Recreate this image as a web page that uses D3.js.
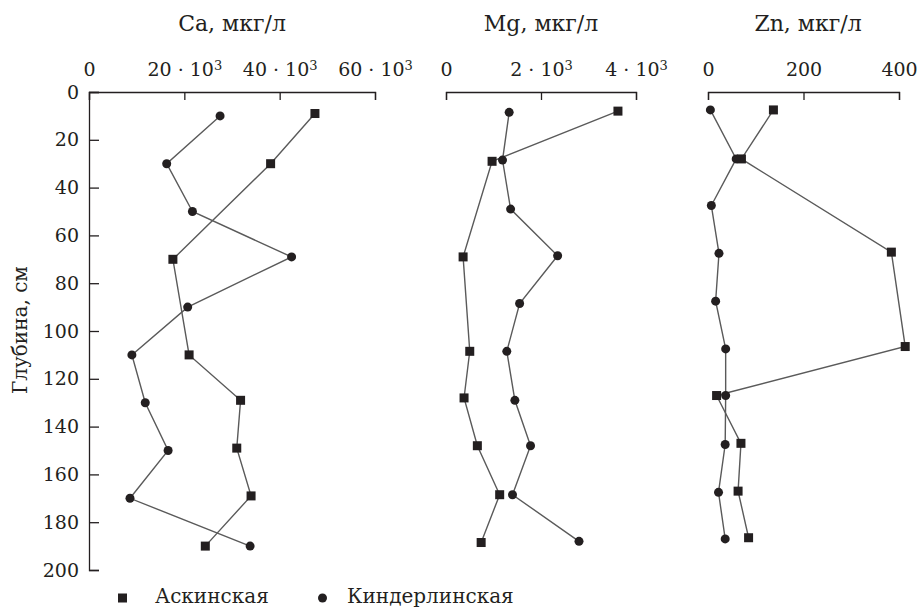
<!DOCTYPE html>
<html>
<head>
<meta charset="utf-8">
<script src="https://cdn.jsdelivr.net/npm/d3@7"></script>
<style>
  body { margin: 0; background: #fff; }
</style>
</head>
<body>
<div id="container"></div>
<script>
// глубины и концентрации (мкг/л)
var caAskDepth = [9, 30, 70, 110, 129, 149, 169, 190]
var caAskValue = [47400, 38100, 17600, 21000, 31800, 31000, 34000, 24400]
var caKinDepth = [10, 30, 50, 69, 90, 110, 130, 150, 170, 190]
var caKinValue = [27500, 16300, 21700, 42500, 20700, 9000, 11800, 16600, 8600, 33800]

var mgAskDepth = [8, 29, 69, 108.5, 128, 148, 168.5, 188.5]
var mgAskValue = [3620, 970, 360, 500, 380, 660, 1130, 740]
var mgKinDepth = [8.5, 28.5, 49, 68.5, 88.5, 108.5, 129, 148, 168.5, 188]
var mgKinValue = [1330, 1190, 1360, 2350, 1550, 1280, 1450, 1780, 1400, 2800]

var znAskDepth = [7.5, 28, 67, 106.5, 127, 147, 167, 186.5]
var znAskValue = [137, 70, 384, 413, 18, 69, 63, 85]
var znKinDepth = [7.5, 28, 47.5, 67.5, 87.5, 107.5, 127, 147.5, 167.5, 187]
var znKinValue = [5, 59, 7, 23, 16, 37, 37, 36, 22, 36]

var depthTicks = [0, 20, 40, 60, 80, 100, 120, 140, 160, 180, 200]
var caTicks = [0, 20000, 40000, 60000]
var mgTicks = [0, 2000, 4000]
var znTicks = [0, 200, 400]

var seriesNames = ['Аскинская', 'Киндерлинская']

var W = 919, H = 607
var FONT = 'DejaVu Serif'   // Liberation Serif в песочнице не находится
var tickFS = 19
var titleFS = 22
var legendFS = 20
var ink = '#231f20'
var lineColor = '#5a5a5a'

var svg = d3.select('#container').append('svg')
  .attr('width', W)
  .attr('height', H)
  .attr('font-family', FONT)

var y = d3.scaleLinear().domain([0, 200]).range([92, 570])

var panels = [
  { title: 'Ca, мкг/л', x: d3.scaleLinear().domain([0, 60000]).range([89, 375]), ticks: caTicks, sci: true,
    ask: d3.zip(caAskDepth, caAskValue), kin: d3.zip(caKinDepth, caKinValue), titleX: 232 },
  { title: 'Mg, мкг/л', x: d3.scaleLinear().domain([0, 4000]).range([446, 636]), ticks: mgTicks, sci: true,
    ask: d3.zip(mgAskDepth, mgAskValue), kin: d3.zip(mgKinDepth, mgKinValue), titleX: 541 },
  { title: 'Zn, мкг/л', x: d3.scaleLinear().domain([0, 400]).range([708, 899]), ticks: znTicks, sci: false,
    ask: d3.zip(znAskDepth, znAskValue), kin: d3.zip(znKinDepth, znKinValue), titleX: 808 }
]

function styleAxis(g) {
  // d3 ставит sans-serif на группу оси, переопределяем
  g.attr('font-family', FONT).attr('font-size', tickFS)
  g.select('.domain').attr('stroke', ink).attr('stroke-width', 1.3)
  g.selectAll('.tick line').attr('stroke', ink).attr('stroke-width', 1.3)
  g.selectAll('.tick text').attr('fill', ink)
}

// левая ось глубины
var yAxis = svg.append('g')
  .attr('transform', 'translate(89,0)')
  .call(d3.axisLeft(y).tickValues(depthTicks).tickSizeInner(-10).tickSizeOuter(-10).tickPadding(10))
styleAxis(yAxis)

svg.append('text')
  .attr('transform', 'translate(27,330) rotate(-90)')
  .attr('text-anchor', 'middle')
  .attr('font-size', 20)
  .attr('fill', ink)
  .text('Глубина, см')

panels.forEach(function (p) {
  var ax = svg.append('g')
    .attr('transform', 'translate(0,92)')
    .call(d3.axisTop(p.x).tickValues(p.ticks).tickSizeInner(-8).tickSizeOuter(-8).tickPadding(16))
  styleAxis(ax)

  // подписи вида «20 · 10³»
  if (p.sci) {
    ax.selectAll('.tick text').each(function (d) {
      var t = d3.select(this)
      if (d === 0) return
      t.text(null)
      t.append('tspan').text((d / 1000) + ' · 10')
      t.append('tspan').attr('dy', '-0.45em').attr('font-size', 13).text('3')
    })
  }

  svg.append('text')
    .attr('x', p.titleX)
    .attr('y', 31)
    .attr('text-anchor', 'middle')
    .attr('font-size', titleFS)
    .attr('fill', ink)
    .text(p.title)

  var line = d3.line().x(function (d) { return p.x(d[1]) }).y(function (d) { return y(d[0]) })

  ;[p.ask, p.kin].forEach(function (s) {
    svg.append('path')
      .attr('d', line(s))
      .attr('fill', 'none')
      .attr('stroke', lineColor)
      .attr('stroke-width', 1.4)
  })

  svg.append('g').selectAll('rect')
    .data(p.ask)
    .enter().append('rect')
    .attr('x', function (d) { return p.x(d[1]) - 4.5 })
    .attr('y', function (d) { return y(d[0]) - 4.5 })
    .attr('width', 9)
    .attr('height', 9)
    .attr('fill', ink)

  svg.append('g').selectAll('circle')
    .data(p.kin)
    .enter().append('circle')
    .attr('cx', function (d) { return p.x(d[1]) })
    .attr('cy', function (d) { return y(d[0]) })
    .attr('r', 4.5)
    .attr('fill', ink)
})

// легенда
var legend = svg.append('g').attr('fill', ink).attr('font-size', legendFS)
legend.append('rect').attr('x', 118).attr('y', 593.5).attr('width', 9).attr('height', 9)
legend.append('text').attr('x', 155).attr('y', 603).text(seriesNames[0])
legend.append('circle').attr('cx', 322.5).attr('cy', 598).attr('r', 4.5)
legend.append('text').attr('x', 347).attr('y', 603).text(seriesNames[1])
</script>
</body>
</html>
